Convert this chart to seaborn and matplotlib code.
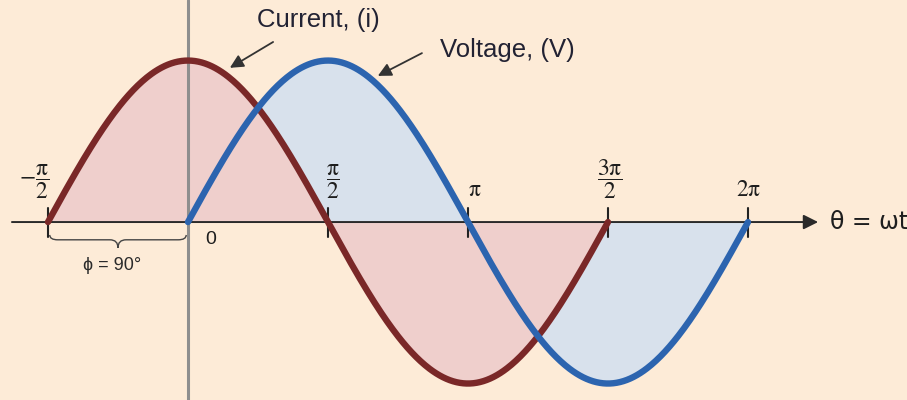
import numpy as np
import pandas as pd
import matplotlib
matplotlib.use('Agg')
import matplotlib.pyplot as plt
import seaborn as sns
from matplotlib.path import Path
from matplotlib.patches import PathPatch

# wave settings (current leads voltage by 90 deg)
amplitude = 1.0
phase_deg = 90
current_span = [-np.pi / 2, 3 * np.pi / 2]
voltage_span = [0, 2 * np.pi]

# x axis marks
tick_pos = [-np.pi / 2, np.pi / 2, np.pi, 3 * np.pi / 2, 2 * np.pi]
tick_labels = [r'$-\dfrac{\pi}{2}$', r'$\dfrac{\pi}{2}$', r'$\pi$',
               r'$\dfrac{3\pi}{2}$', r'$2\pi$']

bg = '#FDEBD7'
red = '#7A2828'
blue = '#2C64AF'
pink_fill = '#EFCFCC'
blue_fill = '#D8E1EC'

# build the two waves
th_i = np.linspace(current_span[0], current_span[1], 500)
th_v = np.linspace(voltage_span[0], voltage_span[1], 500)
i_vals = amplitude * np.sin(th_i + np.deg2rad(phase_deg))
v_vals = amplitude * np.sin(th_v)

df = pd.concat([
    pd.DataFrame({'theta': th_i, 'value': i_vals, 'wave': 'Current'}),
    pd.DataFrame({'theta': th_v, 'value': v_vals, 'wave': 'Voltage'}),
])

sns.set_theme(style='white')
plt.rcParams['font.family'] = ['Liberation Sans', 'DejaVu Sans']
plt.rcParams['mathtext.fontset'] = 'stix'
plt.rcParams['mathtext.default'] = 'rm'

fig = plt.figure(figsize=(9.07, 4.0), dpi=100, facecolor=bg)
ax = fig.add_axes([0, 0, 1, 1])
ax.set_facecolor(bg)

# fills first, current on top of voltage
ax.fill_between(th_v, v_vals, 0, color=blue_fill, lw=0, zorder=1)
ax.fill_between(th_i, i_vals, 0, color=pink_fill, lw=0, zorder=2)

# vertical axis (grey) and horizontal theta axis with arrow
ax.axvline(0, color='#8E8E8E', lw=2.2, zorder=2.5)
ax.annotate('', xy=(7.07, 0), xytext=(-1.975, 0),
            arrowprops=dict(arrowstyle='-|>', color='#2A2A2A', lw=1.4,
                            mutation_scale=22, shrinkA=0, shrinkB=0),
            zorder=3)

# tick marks on the theta axis
for p in tick_pos:
    ax.plot([p, p], [-0.09, 0.09], color='#222222', lw=1.5, zorder=3.5)

sns.lineplot(data=df, x='theta', y='value', hue='wave',
             palette={'Current': red, 'Voltage': blue},
             hue_order=['Current', 'Voltage'], linewidth=4.6,
             legend=False, ax=ax, zorder=4, sort=False, estimator=None)

# tick labels
lab_dx = [-0.16, 0.05, 0.07, 0.02, 0.01]
lab_fs = [17, 17, 17, 17, 17]
for p, lab, dx, fs in zip(tick_pos, tick_labels, lab_dx, lab_fs):
    ax.text(p + dx, 0.13, lab, ha='center', va='bottom', fontsize=fs,
            color='#1E1E1E', zorder=6)
ax.text(0.25, -0.11, '0', ha='center', va='center', fontsize=14,
        color='#1E1E1E')
ax.text(7.2, 0, 'θ = ωt', ha='left', va='center', fontsize=17,
        color='#1E1E1E', family=['DejaVu Sans'])

# curly brace showing the phase shift
x0, x1 = -np.pi / 2 + 0.02, -0.02
xm = (x0 + x1) / 2
y_top, y_line, y_tip = -0.08, -0.11, -0.16
d = 0.09
verts = [(x0, y_top), (x0, y_line), (x0 + d, y_line), (xm - d, y_line),
         (xm, y_line), (xm, y_tip),
         (xm, y_tip), (xm, y_line), (xm + d, y_line), (x1 - d, y_line),
         (x1, y_line), (x1, y_top)]
codes = [Path.MOVETO, Path.CURVE3, Path.CURVE3, Path.LINETO,
         Path.CURVE3, Path.CURVE3,
         Path.MOVETO, Path.CURVE3, Path.CURVE3, Path.LINETO,
         Path.CURVE3, Path.CURVE3]
ax.add_patch(PathPatch(Path(verts, codes), fill=False, ec='#444444', lw=1.0,
                       zorder=5))
ax.text(-0.85, -0.27, 'ϕ = 90°', ha='center', va='center', fontsize=13,
        color='#2A2A2A')

# labels with pointer arrows
ax.text(1.46, 1.25, 'Current, (i)', ha='center', va='center', fontsize=18.5,
        color='#222233')
ax.annotate('', xy=(0.47, 0.955), xytext=(0.955, 1.115),
            arrowprops=dict(arrowstyle='-|>', color='#333333', lw=1.3,
                            mutation_scale=20, shrinkA=0, shrinkB=0))
ax.text(3.58, 1.065, 'Voltage, (V)', ha='center', va='center', fontsize=18.5,
        color='#222233')
ax.annotate('', xy=(2.13, 0.905), xytext=(2.625, 1.046),
            arrowprops=dict(arrowstyle='-|>', color='#333333', lw=1.3,
                            mutation_scale=20, shrinkA=0, shrinkB=0))

ax.set_xlim(-2.109, 8.067)
ax.set_ylim(-1.102, 1.375)
ax.axis('off')

fig.savefig('out.png', dpi=100, facecolor=bg)
